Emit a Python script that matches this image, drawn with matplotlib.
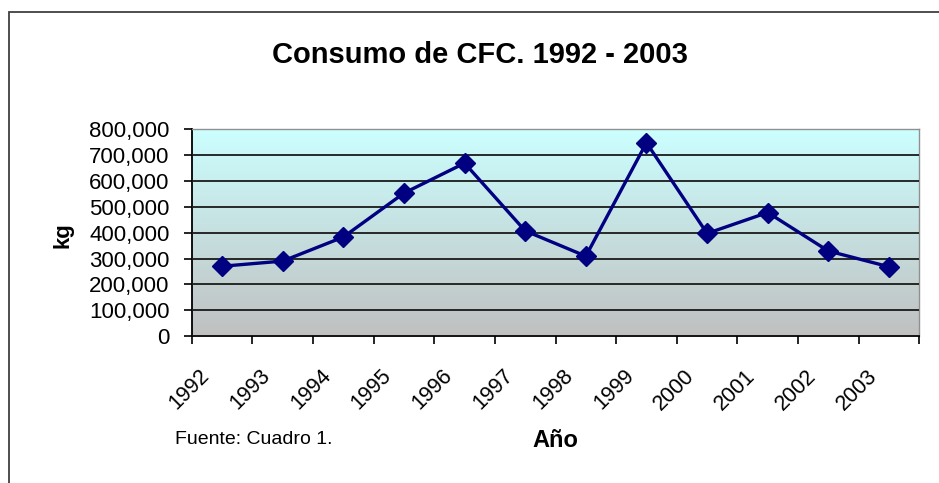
import numpy as np
import matplotlib
matplotlib.use('agg')
import matplotlib.pyplot as plt
from matplotlib.patches import Rectangle
from matplotlib.transforms import ScaledTranslation

years = ['1992', '1993', '1994', '1995', '1996', '1997', '1998', '1999', '2000', '2001', '2002', '2003']
consumo_kg = [270000, 290000, 383000, 553000, 669000, 407000, 309000, 748000, 397000, 478000, 329000, 268000]
y_ticks = [0, 100000, 200000, 300000, 400000, 500000, 600000, 700000, 800000]

plt.rcParams['font.family'] = ['Liberation Sans', 'DejaVu Sans']

fig = plt.figure(figsize=(9.39, 4.83), dpi=100)
ax = fig.add_axes([0.2042, 0.3043, 0.7748, 0.428])

x = np.arange(len(years))

# gradient background: light cyan on top, grey at the bottom
top = np.array([0xCC, 0xFF, 0xFF]) / 255.0
bottom = np.array([0xC0, 0xC0, 0xC0]) / 255.0
t = np.linspace(0, 1, 256)[:, None]
grad = (top * (1 - t) + bottom * t)[:, None, :]
ax.imshow(grad, extent=[-0.5, len(years) - 0.5, 0, y_ticks[-1]], aspect='auto', zorder=0,
          interpolation='bilinear')

ax.plot(x, consumo_kg, color='#000080', lw=2.4, marker='D', markersize=10,
        markeredgecolor='#000080', markerfacecolor='#000080', zorder=3)

ax.set_xlim(-0.5, len(years) - 0.5)
ax.set_ylim(0, y_ticks[-1])
ax.set_yticks(y_ticks)
ax.set_yticklabels(['{:,.0f}'.format(v) for v in y_ticks], fontsize=16)
ax.tick_params(axis='y', direction='out', length=6, width=1.2, pad=10)

ax.yaxis.grid(True, color='#1a1a1a', lw=1.3, zorder=1)
ax.get_ygridlines()[-1].set_visible(False)
ax.set_axisbelow(False)

# tick marks between categories, labels at the category centres
ax.set_xticks(np.arange(-0.5, len(years), 1.0))
ax.set_xticklabels([])
ax.tick_params(axis='x', which='major', direction='out', length=6, width=1.2)
ax.set_xticks(x, minor=True)
ax.set_xticklabels(years, minor=True, rotation=45, ha='right', va='top', fontsize=15.5)
ax.tick_params(axis='x', which='minor', length=0, pad=21)
shift = ScaledTranslation(-8 / 100, 0, fig.dpi_scale_trans)
for lab in ax.get_xticklabels(minor=True):
    lab.set_transform(lab.get_transform() + shift)

for s in ['left', 'bottom']:
    ax.spines[s].set_color('black')
    ax.spines[s].set_linewidth(1.3)
for s in ['top', 'right']:
    ax.spines[s].set_color('#909090')
    ax.spines[s].set_linewidth(1.0)

ax.set_ylabel('kg', fontsize=16, fontweight='bold', va='center')
ax.yaxis.set_label_coords(-0.1776, 0.49)
ax.set_xlabel('Año', fontsize=17, fontweight='bold', va='center')
ax.xaxis.set_label_coords(0.5, -0.503)

fig.text(480 / 939, 1 - 55 / 483, 'Consumo de CFC. 1992 - 2003', fontsize=21,
         fontweight='bold', ha='center', va='center')
fig.text(175 / 939, 1 - 439 / 483, 'Fuente: Cuadro 1.', fontsize=14, ha='left', va='center')

fig.patches.append(Rectangle((9 / 939, -0.1), 1.2, 1.1 - 12.5 / 483, transform=fig.transFigure,
                             fill=False, edgecolor='#404040', lw=1.3))

fig.savefig('out.png', dpi=100)
